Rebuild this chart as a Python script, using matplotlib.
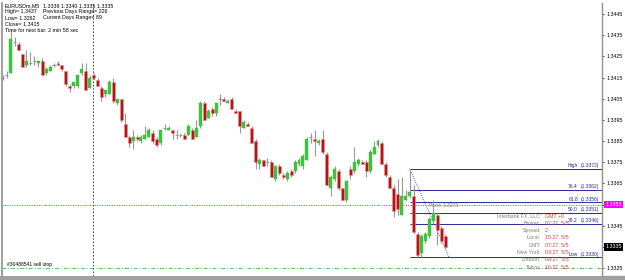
import numpy as np
import matplotlib.pyplot as plt

plt.rcParams['font.family'] = ['Liberation Sans', 'DejaVu Sans']

# price = 1.3445 - pips/10000 (pips below 1.3445)
opens = [30, 29, 28, 13, 14, 19, 24, 23, 22, 23, 22, 28, 27, 24, 23, 24, 27, 34, 34, 34,
         28, 27, 35, 29, 31, 35, 38, 38, 32, 42, 40, 52, 58, 60, 58, 60, 59, 58, 56, 59,
         61, 54, 55, 55, 57, 57, 57, 57, 55, 58, 53, 42, 49, 45, 47, 40, 40, 42, 40, 46,
         46, 54, 52, 54, 60, 71, 69, 70, 70, 78, 72, 76, 78, 74, 74, 71, 72, 69, 58, 59,
         61, 59, 66, 82, 78, 74, 82, 88, 73, 74, 71, 70, 70, 74, 66, 62, 61, 71, 77, 82,
         85, 95, 88, 86, 86, 104, 113, 107, 105, 98, 95, 101, 105]
highs = [29, 27, 7, 11, 13, 19, 17, 18, 20, 22, 21, 25, 24, 23, 22, 24, 27, 33, 32, 29,
         23, 23, 29, 28, 30, 34, 36, 31, 30, 40, 40, 47, 57, 55, 57, 57, 53, 54, 55, 58,
         55, 52, 53, 55, 55, 56, 56, 52, 54, 50, 41, 41, 45, 44, 42, 38, 39, 40, 39, 45,
         46, 50, 51, 53, 59, 68, 69, 68, 69, 72, 71, 75, 74, 73, 69, 68, 66, 58, 56, 55,
         59, 55, 65, 76, 72, 73, 82, 79, 72, 63, 68, 69, 69, 64, 60, 59, 60, 70, 76, 81,
         78, 77, 83, 73, 81, 103, 104, 103, 96, 88, 94, 100, 104]
lows = [31, 30, 28, 15, 17, 25, 25, 24, 24, 25, 29, 29, 27, 25, 24, 27, 34, 37, 35, 35,
        29, 36, 35, 31, 34, 41, 39, 38, 42, 43, 51, 58, 63, 64, 60, 61, 59, 58, 61, 63,
        62, 55, 55, 59, 59, 58, 59, 57, 59, 58, 54, 50, 49, 48, 48, 43, 41, 42, 45, 47,
        56, 54, 53, 61, 73, 73, 72, 72, 77, 79, 76, 78, 79, 77, 75, 72, 73, 69, 61, 67,
        62, 66, 81, 86, 79, 83, 88, 89, 78, 75, 72, 71, 77, 75, 66, 63, 71, 77, 82, 96,
        95, 95, 88, 87, 104, 115, 115, 108, 106, 99, 109, 108, 111]
closes = [30, 29, 12, 13, 17, 25, 22, 23, 22, 22, 29, 26, 25, 24, 24, 26, 33, 35, 32, 29,
          26, 36, 30, 30, 34, 39, 36, 32, 41, 40, 50, 58, 61, 58, 59, 58, 57, 55, 60, 62,
          55, 54, 54, 56, 57, 57, 59, 53, 59, 54, 42, 50, 46, 47, 42, 40, 41, 41, 45, 47,
          53, 51, 53, 61, 70, 69, 72, 70, 77, 72, 75, 77, 75, 76, 70, 69, 67, 59, 58, 60,
          60, 65, 81, 77, 73, 82, 88, 79, 76, 70, 69, 71, 74, 65, 63, 60, 71, 76, 82, 93,
          92, 86, 86, 84, 103, 114, 105, 104, 97, 94, 102, 107, 110]

yticks = [1.3445, 1.3435, 1.3425, 1.3415, 1.3405, 1.3395, 1.3385, 1.3375,
          1.3365, 1.3355, 1.3345, 1.3335, 1.3325]
fib_names = ['High', '76.4', '61.8', '50.0', '38.2', 'Low']
fib_prices = [1.3372, 1.3362, 1.3356, 1.3351, 1.3346, 1.3330]
fib_start = 103
bid = 1.3335
magenta_level = 1.3355
sell_stop = 1.3325
vline_bar = 22.9

header_left = ['EURUSDm,M5', 'High= 1.3437', 'Low= 1.3262', 'Close= 1.3415',
               'Time for next bar: 2 min 58 sec']
header_right = ['1.3339 1.3340 1.3335 1.3335', 'Previous Days Range= 226',
                'Current Days Range= 89', '', '']
info_labels = ['Interbank FX, LLC:', 'Broker:', 'Spread:', 'Local:', 'GMT:',
               'New York:', 'London:', 'Tokyo:']
info_values = ['GMT +0', '07:27  5/5', '2', '15:27  5/5', '07:27  5/5',
               '03:27  5/5', '08:27  5/5', '16:27  5/5']

base = 1.3445
o = base - np.array(opens) / 10000
h = base - np.array(highs) / 10000
l = base - np.array(lows) / 10000
c = base - np.array(closes) / 10000
x = np.arange(len(o))

W, H = 625, 280
fig = plt.figure(figsize=(W / 100, H / 100), dpi=100)
fig.patch.set_facecolor('white')
# grey strip at the bottom
fig.add_artist(plt.Rectangle((0, 0), 1, 4 / H, transform=fig.transFigure,
                             color='#a0a0a0', zorder=0))
ax = fig.add_axes([2 / W, 4 / H, 600 / W, 273 / H])
ax.set_xlim(-0.18, 151.7)
ax.set_ylim(base - 262 / 21170, base + 11 / 21170)

# wicks
ax.vlines(x, l, h, color='#989898', lw=0.8, zorder=2)
# bodies
up = c > o
down = c < o
flat = c == o
ax.bar(x[up], (c - o)[up], bottom=o[up], width=0.75, color='#3cc23c',
       edgecolor='#3cc23c', lw=0.3, zorder=3)
ax.bar(x[down], (o - c)[down], bottom=c[down], width=0.75, color='#b01818',
       edgecolor='#f09090', lw=0.4, zorder=3)
ax.hlines(o[flat], x[flat] - 0.4, x[flat] + 0.4, color='#989898', lw=0.8, zorder=3)

# order / alert lines
ax.axhline(magenta_level, color='#cc33cc', lw=0.7, ls=(0, (1, 1.5)), zorder=1)
ax.axhline(sell_stop, color='#66bb66', lw=0.7, ls=(0, (4, 2, 1, 2)), zorder=1)
ax.axvline(vline_bar, color='#303030', lw=0.6, ls=(0, (2, 2)), zorder=1)
ax.text(1.0, sell_stop + 0.00003, '#30488541 sell stop', fontsize=3.6,
        color='black', va='bottom', ha='left')

# fibonacci
for name, p in zip(fib_names, fib_prices):
    ax.hlines(p, fib_start, 151.7, color='#2a2a9a', lw=0.7, zorder=1)
    ax.text(145.6, p + 0.00003, name, fontsize=3.6, color='#2a2a9a',
            ha='right', va='bottom')
    ax.text(146.4, p + 0.00003, '(%.4f)' % p, fontsize=3.6, color='#2a2a9a',
            ha='left', va='bottom')
ax.plot([fib_start, 113], [fib_prices[0], fib_prices[-1]], color='#2a2a9a',
        lw=0.6, ls=(0, (1, 1.5)), zorder=1)
ax.text(107.8, 1.33535, 'Pivot: 1.3273', fontsize=3.6, color='#808080',
        ha='left', va='bottom')

# info panel
for k, (lab, val) in enumerate(zip(info_labels, info_values)):
    yp = 216 + k * 7.3
    fig.text(541 / W, 1 - yp / H, lab, fontsize=3.8, color='#808080',
             ha='right', va='center')
    fig.text(545 / W, 1 - yp / H, val, fontsize=3.8, color='#cc4444',
             ha='left', va='center')

# header text
for k, (a, b) in enumerate(zip(header_left, header_right)):
    yp = 1 - (6 + k * 6.0) / H
    fig.text(5 / W, yp, a, fontsize=3.8, color='black', ha='left', va='center')
    fig.text(43 / W, yp, b, fontsize=3.8, color='black', ha='left', va='center')

# axes style
for s in ['top', 'bottom']:
    ax.spines[s].set_visible(False)
ax.spines['left'].set_color('#909090')
ax.spines['right'].set_color('#909090')
ax.spines['left'].set_linewidth(1.2)
ax.spines['right'].set_linewidth(1.0)
ax.set_xticks([])
ax.yaxis.tick_right()
ax.set_yticks(yticks)
ax.set_yticklabels(['%.4f' % v for v in yticks], fontsize=3.8)
ax.tick_params(axis='y', length=1.5, width=0.5, pad=2, colors='black')

for p, fc in [(magenta_level, '#ff00ff'), (bid, 'black')]:
    ax.text(1.006, p, '%.4f' % p, transform=ax.get_yaxis_transform(),
            fontsize=3.8, color='white', va='center', ha='left',
            bbox=dict(boxstyle='square,pad=0.25', fc=fc, ec='none'))

fig.savefig('out.png', dpi=100)
